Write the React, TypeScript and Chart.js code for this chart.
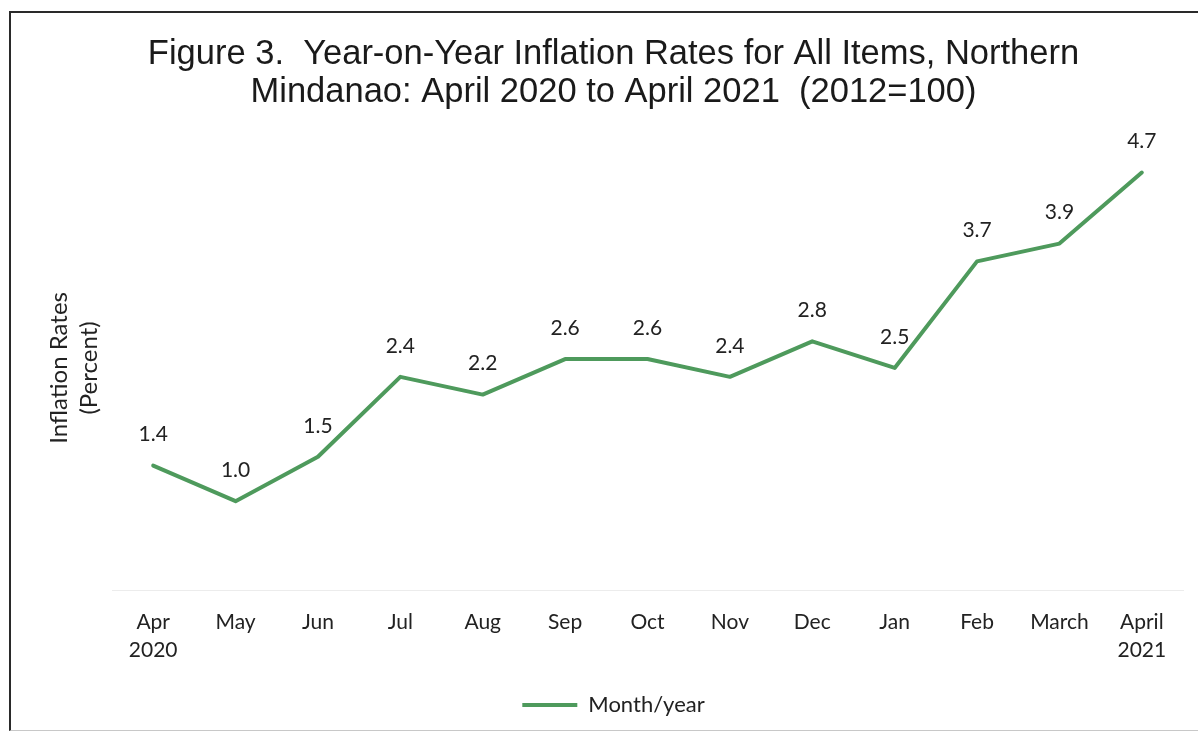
import React, { useEffect, useRef } from "react";
import { Chart, registerables } from "chart.js";

Chart.register(...registerables);

const categories: string[][] = [
  ["Apr", "2020"], ["May"], ["Jun"], ["Jul"], ["Aug"], ["Sep"], ["Oct"],
  ["Nov"], ["Dec"], ["Jan"], ["Feb"], ["March"], ["April", "2021"],
];
const inflationValues: number[] = [1.4, 1.0, 1.5, 2.4, 2.2, 2.6, 2.6, 2.4, 2.8, 2.5, 3.7, 3.9, 4.7];
const seriesName = "Month/year";
const titleLines = [
  "Figure 3.  Year-on-Year Inflation Rates for All Items, Northern",
  "Mindanao: April 2020 to April 2021  (2012=100)",
];
const yTitleLines = ["Inflation Rates", "(Percent)"];

const GREEN = "#4e9a5c";
const TEXT = "#222222";
const LABEL_FONT = "Lato, 'Open Sans', sans-serif";

const dataLabelPlugin = {
  id: "dataLabels",
  afterDatasetsDraw(chart: any) {
    const { ctx } = chart;
    const meta = chart.getDatasetMeta(0);
    const ds = chart.data.datasets[0];
    ctx.save();
    ctx.font = `21px ${LABEL_FONT}`;
    ctx.fillStyle = TEXT;
    ctx.textAlign = "center";
    ctx.textBaseline = "middle";
    meta.data.forEach((pt: any, i: number) => {
      const v = ds.data[i] as number;
      ctx.fillText(v.toFixed(1), pt.x, pt.y - 31);
    });
    ctx.restore();
  },
};

export default function App() {
  const canvasRef = useRef<HTMLCanvasElement | null>(null);

  useEffect(() => {
    if (!canvasRef.current) return;
    const chart = new Chart(canvasRef.current, {
      type: "line",
      data: {
        labels: categories,
        datasets: [
          {
            label: seriesName,
            data: inflationValues,
            borderColor: GREEN,
            backgroundColor: GREEN,
            borderWidth: 4,
            pointRadius: 0,
            pointHoverRadius: 0,
            tension: 0,
            borderJoinStyle: "round",
            borderCapStyle: "round",
          },
        ],
      },
      options: {
        responsive: false,
        animation: false,
        layout: { padding: { left: 44, right: 15, top: 0, bottom: 9 } },
        scales: {
          x: {
            offset: true,
            grid: { display: false, drawTicks: false },
            border: { display: true, color: "#ececec", width: 1 },
            ticks: {
              color: TEXT,
              font: { family: LABEL_FONT, size: 21, lineHeight: 1.333 },
              padding: 18,
              maxRotation: 0,
              autoSkip: false,
            },
          },
          y: {
            min: 0,
            max: 5,
            grid: { display: false, drawTicks: false },
            border: { display: false },
            ticks: { display: false },
            title: {
              display: true,
              text: yTitleLines,
              color: TEXT,
              font: { family: LABEL_FONT, size: 24, lineHeight: 1.25 },
              padding: { top: 0, bottom: 8 },
            },
          },
        },
        plugins: {
          title: {
            display: true,
            text: titleLines,
            color: "#1a1a1a",
            font: { family: "'Liberation Sans', Arial, sans-serif", size: 34.5, weight: "normal", lineHeight: 1.1 },
            padding: { top: 36, bottom: 34 },
          },
          legend: {
            display: true,
            position: "bottom",
            labels: {
              color: TEXT,
              font: { family: LABEL_FONT, size: 22 },
              usePointStyle: true,
              pointStyle: "line",
              pointStyleWidth: 55,
              padding: 12,
            },
          },
          tooltip: { enabled: false },
        },
      },
      plugins: [dataLabelPlugin],
    });
    return () => chart.destroy();
  }, []);

  return (
    <div style={{ position: "fixed", left: 0, top: 0, width: 1198, height: 735, background: "#fff", overflow: "hidden" }}>
      <div
        style={{
          position: "absolute",
          left: 9,
          top: 11,
          width: 1200,
          height: 720,
          borderLeft: "2px solid #2a2a2a",
          borderTop: "2px solid #2a2a2a",
          borderBottom: "1px solid #c8c8c8",
          boxSizing: "border-box",
        }}
      />
      <canvas ref={canvasRef} width={1198} height={735} style={{ position: "absolute", left: 0, top: 0 }} />
    </div>
  );
}
